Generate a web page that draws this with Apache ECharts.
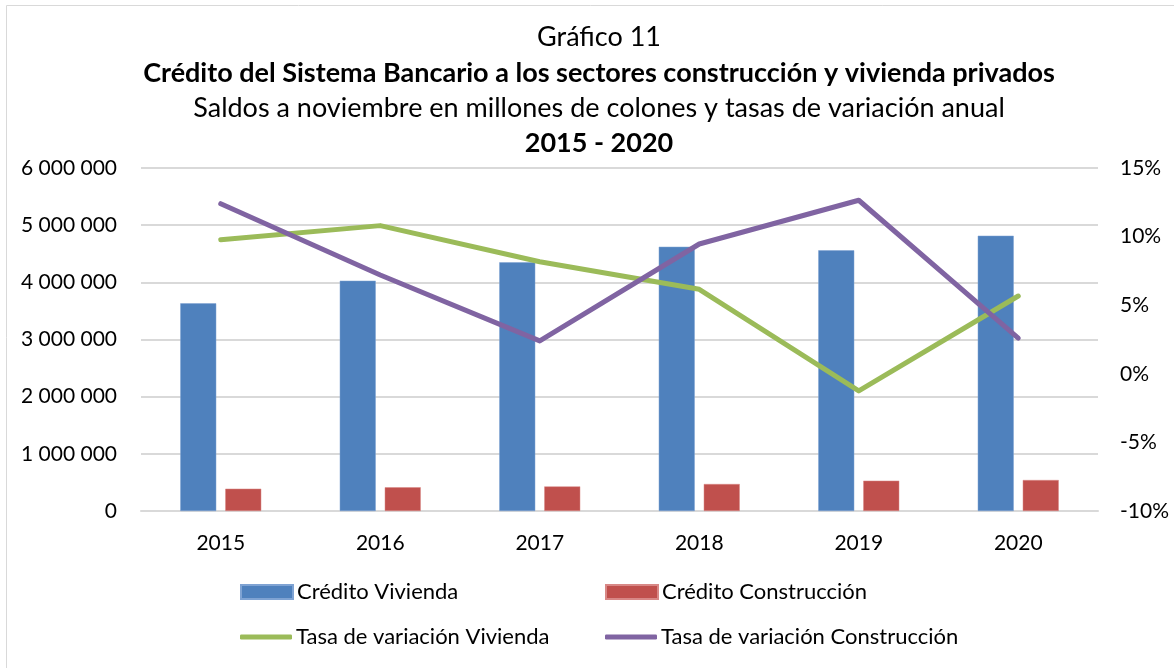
<!DOCTYPE html>
<html>
<head>
<meta charset="utf-8">
<script src="https://cdn.jsdelivr.net/npm/echarts@6/dist/echarts.min.js"></script>
<style>
html,body{margin:0;padding:0;background:#fff;}
#c{width:1174px;height:668px;}
</style>
</head>
<body>
<div id="c"></div>
<script>
const categories = ['2015','2016','2017','2018','2019','2020'];
const creditoVivienda = [3633000, 4028000, 4350000, 4622000, 4560000, 4815000];
const creditoConstruccion = [390000, 415000, 430000, 472000, 530000, 542000];
const tasaVivienda = [9.77, 10.8, 8.17, 6.16, -1.25, 5.67];
const tasaConstruccion = [12.4, 7.2, 2.4, 9.46, 12.65, 2.6];
const leftAxisRange = [0, 6000000, 1000000];
const rightAxisRange = [-10, 15, 5];
const titleLines = ['Gráfico 11',
  'Crédito del Sistema Bancario a los sectores construcción y vivienda privados',
  'Saldos a noviembre en millones de colones y tasas de variación anual',
  '2015 - 2020'];
const seriesNames = ['Crédito Vivienda','Crédito Construcción','Tasa de variación Vivienda','Tasa de variación Construcción'];

const FONT = 'Lato';
const colors = ['#4F81BD','#C0504D','#9BBB59','#8064A2'];
const chart = echarts.init(document.getElementById('c'));
function fmtThousands(v){ return String(v).replace(/\B(?=(\d{3})+(?!\d))/g,' '); }
const titleTops = [24, 60, 95, 130];
const titleBold = [false, true, false, true];
const legendPos = [[240,581],[605,581],[240,626],[605,626]];
chart.setOption({
  animation:false,
  textStyle:{fontFamily:FONT},
  title: titleLines.map((t,i)=>({
    text:t, left:599, top:titleTops[i], textAlign:'center', padding:0,
    textStyle:{fontFamily:FONT, fontSize:27, fontWeight: titleBold[i]?'bold':'normal', color:'#000'}
  })),
  graphic:[{type:'rect', shape:{x:6.5,y:5.5,width:1200,height:700}, style:{fill:'none',stroke:'#D9D9D9',lineWidth:1}, silent:true}],
  legend: seriesNames.map((n,i)=>({
    data:[n], left:legendPos[i][0], top:legendPos[i][1], orient:'horizontal', padding:0,
    itemWidth:52, itemHeight: i<2?14:5, itemGap:6, icon: i<2?'rect':'roundRect',
    textStyle:{fontFamily:FONT, fontSize:22, color:'#000', padding:[0,0,0,-1]},
    selectedMode:false
  })),
  grid:{left:141, right:76, top:168, height:343, containLabel:false},
  xAxis:{type:'category', data:categories,
    axisLine:{show:true, lineStyle:{color:'#D9D9D9', width:2}},
    axisTick:{show:false},
    axisLabel:{fontFamily:FONT, fontSize:21, color:'#000', margin:22}},
  yAxis:[
    {type:'value', min:leftAxisRange[0], max:leftAxisRange[1], interval:leftAxisRange[2],
     axisLine:{show:false}, axisTick:{show:false},
     splitLine:{lineStyle:{color:'#D9D9D9', width:2}},
     axisLabel:{fontFamily:FONT, fontSize:21, color:'#000', margin:24, formatter:fmtThousands}},
    {type:'value', min:rightAxisRange[0], max:rightAxisRange[1], interval:rightAxisRange[2],
     axisLine:{show:false}, axisTick:{show:false}, splitLine:{show:false},
     axisLabel:{fontFamily:FONT, fontSize:21, color:'#000', margin:22, formatter:v=>v+'%'}}
  ],
  series:[
    {name:seriesNames[0], type:'bar', data:creditoVivienda, barWidth:36, barGap:'25%',
     itemStyle:{color:colors[0], borderColor:'#7FA3D3', borderWidth:0.5}},
    {name:seriesNames[1], type:'bar', data:creditoConstruccion, barWidth:36, barGap:'25%',
     itemStyle:{color:colors[1], borderColor:'#D88886', borderWidth:0.5}},
    {name:seriesNames[2], type:'line', yAxisIndex:1, data:tasaVivienda, symbol:'none',
     lineStyle:{color:colors[2], width:5, cap:'round', join:'round'}, itemStyle:{color:colors[2]}, z:3},
    {name:seriesNames[3], type:'line', yAxisIndex:1, data:tasaConstruccion, symbol:'none',
     lineStyle:{color:colors[3], width:5, cap:'round', join:'round'}, itemStyle:{color:colors[3]}, z:4}
  ]
});
</script>
</body>
</html>
